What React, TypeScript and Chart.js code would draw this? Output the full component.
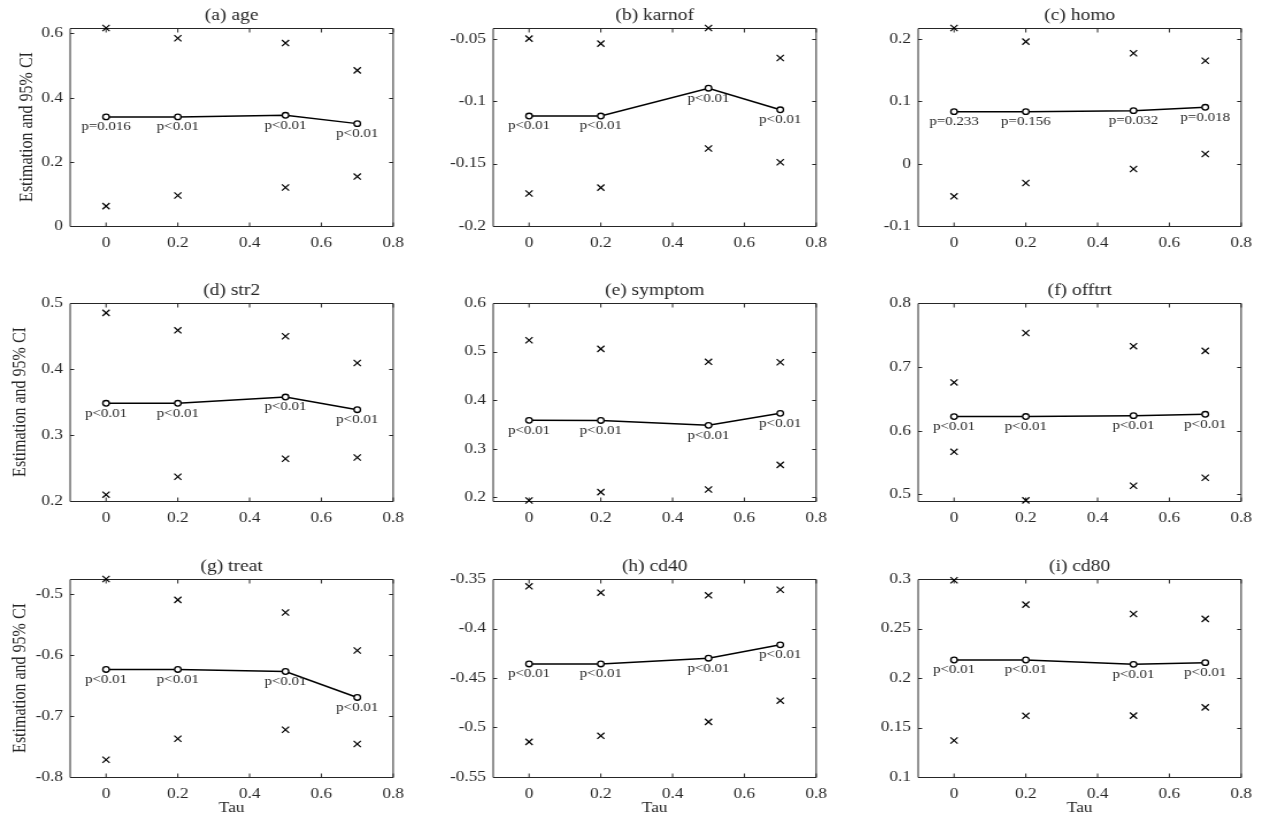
import React, { useEffect, useRef } from "react";
import { Chart, registerables } from "chart.js";

Chart.register(...registerables);

// ---------- data ----------
const tau = [0, 0.2, 0.5, 0.7];
const xTicks = [0, 0.2, 0.4, 0.6, 0.8];
const xRange = [-0.1, 0.8];

// (a) age
const ageEst = [0.34, 0.34, 0.345, 0.319];
const ageUpper = [0.617, 0.585, 0.57, 0.485];
const ageLower = [0.062, 0.095, 0.12, 0.154];
const ageP = ["p=0.016", "p<0.01", "p<0.01", "p<0.01"];
const ageYTicks = [0, 0.2, 0.4, 0.6];
const ageYRange = [0, 0.617];

// (b) karnof
const karnofEst = [-0.112, -0.112, -0.0897, -0.107];
const karnofUpper = [-0.05, -0.054, -0.0415, -0.0655];
const karnofLower = [-0.174, -0.1693, -0.138, -0.149];
const karnofP = ["p<0.01", "p<0.01", "p<0.01", "p<0.01"];
const karnofYTicks = [-0.2, -0.15, -0.1, -0.05];
const karnofYRange = [-0.2, -0.0415];

// (c) homo
const homoEst = [0.0834, 0.0834, 0.085, 0.0904];
const homoUpper = [0.2176, 0.1957, 0.177, 0.165];
const homoLower = [-0.0524, -0.031, -0.0086, 0.0155];
const homoP = ["p=0.233", "p=0.156", "p=0.032", "p=0.018"];
const homoYTicks = [-0.1, 0, 0.1, 0.2];
const homoYRange = [-0.1, 0.2176];

// (d) str2
const str2Est = [0.348, 0.348, 0.3575, 0.3383];
const str2Upper = [0.485, 0.4586, 0.4496, 0.409];
const str2Lower = [0.2096, 0.2368, 0.264, 0.266];
const str2P = ["p<0.01", "p<0.01", "p<0.01", "p<0.01"];
const str2YTicks = [0.2, 0.3, 0.4, 0.5];
const str2YRange = [0.2, 0.5];

// (e) symptom
const symptomEst = [0.3582, 0.358, 0.3479, 0.3726];
const symptomUpper = [0.5233, 0.5055, 0.4788, 0.478];
const symptomLower = [0.193, 0.2103, 0.2158, 0.2664];
const symptomP = ["p<0.01", "p<0.01", "p<0.01", "p<0.01"];
const symptomYTicks = [0.2, 0.3, 0.4, 0.5, 0.6];
const symptomYRange = [0.192, 0.6];

// (f) offtrt
const offtrtEst = [0.6219, 0.622, 0.6234, 0.6255];
const offtrtUpper = [0.6755, 0.753, 0.7323, 0.725];
const offtrtLower = [0.5667, 0.4906, 0.5135, 0.526];
const offtrtP = ["p<0.01", "p<0.01", "p<0.01", "p<0.01"];
const offtrtYTicks = [0.5, 0.6, 0.7, 0.8];
const offtrtYRange = [0.4896, 0.8];

// (g) treat
const treatEst = [-0.6235, -0.6235, -0.6268, -0.6694];
const treatUpper = [-0.475, -0.5093, -0.53, -0.5923];
const treatLower = [-0.7716, -0.7372, -0.7224, -0.7459];
const treatP = ["p<0.01", "p<0.01", "p<0.01", "p<0.01"];
const treatYTicks = [-0.8, -0.7, -0.6, -0.5];
const treatYRange = [-0.8, -0.475];

// (h) cd40
const cd40Est = [-0.4358, -0.4358, -0.43, -0.4165];
const cd40Upper = [-0.3574, -0.3638, -0.3665, -0.3608];
const cd40Lower = [-0.5145, -0.5084, -0.4943, -0.4729];
const cd40P = ["p<0.01", "p<0.01", "p<0.01", "p<0.01"];
const cd40YTicks = [-0.55, -0.5, -0.45, -0.4, -0.35];
const cd40YRange = [-0.55, -0.35];

// (i) cd80
const cd80Est = [0.2182, 0.2182, 0.2138, 0.2155];
const cd80Upper = [0.2987, 0.2741, 0.2647, 0.2597];
const cd80Lower = [0.1369, 0.1618, 0.162, 0.1703];
const cd80P = ["p<0.01", "p<0.01", "p<0.01", "p<0.01"];
const cd80YTicks = [0.1, 0.15, 0.2, 0.25, 0.3];
const cd80YRange = [0.1, 0.3];

const panelTitles = [
  "(a) age", "(b) karnof", "(c) homo",
  "(d) str2", "(e) symptom", "(f) offtrt",
  "(g) treat", "(h) cd40", "(i) cd80",
];

const yTitle = "Estimation and 95% CI";
const xTitle = "Tau";

const panels = [
  { est: ageEst, upper: ageUpper, lower: ageLower, p: ageP, yTicks: ageYTicks, yRange: ageYRange },
  { est: karnofEst, upper: karnofUpper, lower: karnofLower, p: karnofP, yTicks: karnofYTicks, yRange: karnofYRange },
  { est: homoEst, upper: homoUpper, lower: homoLower, p: homoP, yTicks: homoYTicks, yRange: homoYRange },
  { est: str2Est, upper: str2Upper, lower: str2Lower, p: str2P, yTicks: str2YTicks, yRange: str2YRange },
  { est: symptomEst, upper: symptomUpper, lower: symptomLower, p: symptomP, yTicks: symptomYTicks, yRange: symptomYRange },
  { est: offtrtEst, upper: offtrtUpper, lower: offtrtLower, p: offtrtP, yTicks: offtrtYTicks, yRange: offtrtYRange },
  { est: treatEst, upper: treatUpper, lower: treatLower, p: treatP, yTicks: treatYTicks, yRange: treatYRange },
  { est: cd40Est, upper: cd40Upper, lower: cd40Lower, p: cd40P, yTicks: cd40YTicks, yRange: cd40YRange },
  { est: cd80Est, upper: cd80Upper, lower: cd80Lower, p: cd80P, yTicks: cd80YTicks, yRange: cd80YRange },
];

// ---------- layout ----------
// The original figure is horizontally stretched; each canvas is drawn narrower
// and widened with CSS scaleX so glyphs and markers get the same aspect.
const SX = 1.15;
const FONT = "'Liberation Serif', 'Times New Roman', serif";
const INK = "#262626";
const colLefts = [70, 493, 918]; // page px of plot-area left edge
const rowTops = [28, 303, 579]; // page px of plot-area top edge
const PLOT_W_PAGE = 323;
const PLOT_H = 198;
const Y_AXIS_W = 61; // local (unstretched) px
const TOP_H = 30;
const X_AXIS_H = 45;
const CANVAS_W = 360; // local px
const PLOT_W = PLOT_W_PAGE / SX;
const RIGHT_PAD = CANVAS_W - Y_AXIS_W - PLOT_W;
const CANVAS_H = TOP_H + PLOT_H + X_AXIS_H;
const yTitleOffsetByRow = [13.9, 7.8, 7.8];

const fmt = (v: number) => String(Math.round(v * 1000) / 1000);

const framePlugin = {
  id: "frameTicks",
  beforeDatasetsDraw(chart: any) {
    const { ctx, chartArea } = chart;
    const { left, right, top, bottom } = chartArea;
    const xs = chart.scales.x;
    const ys = chart.scales.y;
    ctx.save();
    ctx.strokeStyle = INK;
    ctx.lineWidth = 1;
    const t = Math.round(top) + 0.5;
    const b = Math.round(bottom) + 0.5;
    ctx.beginPath();
    ctx.rect(left, t, right - left, b - t);
    ctx.stroke();
    const TL = 4;
    ctx.beginPath();
    xs.ticks.forEach((tk: any) => {
      const px = xs.getPixelForValue(tk.value);
      ctx.moveTo(px, b);
      ctx.lineTo(px, b - TL);
      ctx.moveTo(px, t);
      ctx.lineTo(px, t + TL);
    });
    ys.ticks.forEach((tk: any) => {
      const py = Math.round(ys.getPixelForValue(tk.value)) + 0.5;
      ctx.moveTo(left, py);
      ctx.lineTo(left + TL / SX, py);
      ctx.moveTo(right, py);
      ctx.lineTo(right - TL / SX, py);
    });
    ctx.stroke();
    ctx.restore();
  },
};

const pLabelPlugin = {
  id: "pLabels",
  afterDatasetsDraw(chart: any, _args: any, opts: any) {
    const labels: string[] = opts.labels || [];
    const meta = chart.getDatasetMeta(0);
    const { ctx } = chart;
    ctx.save();
    ctx.fillStyle = INK;
    ctx.font = `13px ${FONT}`;
    ctx.textAlign = "center";
    ctx.textBaseline = "middle";
    meta.data.forEach((pt: any, i: number) => {
      if (labels[i]) ctx.fillText(labels[i], pt.x, pt.y + 10);
    });
    ctx.restore();
  },
};

function Panel({ index }: { index: number }) {
  const ref = useRef<HTMLCanvasElement | null>(null);
  const row = Math.floor(index / 3);
  const col = index % 3;
  const spec = panels[index];
  const left = colLefts[col] - Y_AXIS_W * SX;
  const top = rowTops[row] - TOP_H;

  useEffect(() => {
    if (!ref.current) return;
    const toPts = (arr: number[]) => tau.map((x, i) => ({ x, y: arr[i] }));
    const crossSet = (arr: number[]) => ({
      data: toPts(arr),
      showLine: false,
      pointStyle: "crossRot",
      pointRadius: 4.4,
      pointBorderWidth: 1.2,
      pointBorderColor: "#000",
      borderColor: "#000",
      clip: false as any,
    });
    const chart = new Chart(ref.current, {
      type: "line",
      data: {
        datasets: [
          {
            data: toPts(spec.est),
            borderColor: "#000",
            borderWidth: 1.5,
            pointStyle: "circle",
            pointRadius: 2.8,
            pointBorderWidth: 1.3,
            pointBorderColor: "#000",
            pointBackgroundColor: "#fff",
            tension: 0,
            clip: false as any,
          },
          crossSet(spec.upper),
          crossSet(spec.lower),
        ],
      },
      options: {
        responsive: false,
        animation: false,
        devicePixelRatio: 1,
        layout: { padding: { left: 0, top: 0, right: RIGHT_PAD, bottom: 0 } },
        plugins: {
          legend: { display: false },
          tooltip: { enabled: false },
          title: {
            display: true,
            text: panelTitles[index],
            fullSize: false,
            color: INK,
            font: { family: FONT, size: 17, weight: "normal" },
            padding: { top: 7.8, bottom: 1.8 },
          },
          pLabels: { labels: spec.p },
        } as any,
        scales: {
          x: {
            type: "linear",
            min: xRange[0],
            max: xRange[1],
            grid: { display: false, drawTicks: false },
            border: { display: false },
            afterBuildTicks: (s: any) => {
              s.ticks = xTicks.map((v) => ({ value: v }));
            },
            afterFit: (s: any) => {
              s.height = X_AXIS_H;
            },
            ticks: {
              color: INK,
              font: { family: FONT, size: 15 },
              padding: 8,
              maxRotation: 0,
              callback: (v: any) => fmt(Number(v)),
            },
            title: {
              display: row === 2,
              text: xTitle,
              color: INK,
              font: { family: FONT, size: 15 },
              padding: { top: 0, bottom: 5 },
            },
          },
          y: {
            type: "linear",
            min: spec.yRange[0],
            max: spec.yRange[1],
            grid: { display: false, drawTicks: false },
            border: { display: false },
            afterBuildTicks: (s: any) => {
              s.ticks = spec.yTicks.map((v) => ({ value: v }));
            },
            afterFit: (s: any) => {
              s.width = Y_AXIS_W;
            },
            ticks: {
              color: INK,
              font: { family: FONT, size: 15 },
              padding: 6.3,
              callback: (v: any) => fmt(Number(v)),
            },
            title: {
              display: col === 0,
              text: yTitle,
              color: INK,
              font: { family: FONT, size: 16 },
              padding: { top: yTitleOffsetByRow[row], bottom: 0 },
            },
          },
        },
      } as any,
      plugins: [framePlugin, pLabelPlugin],
    });
    return () => chart.destroy();
  }, [index]);

  return (
    <canvas
      ref={ref}
      width={CANVAS_W}
      height={CANVAS_H}
      style={{
        position: "absolute",
        left,
        top,
        width: CANVAS_W,
        height: CANVAS_H,
        transform: `scaleX(${SX})`,
        transformOrigin: "0 0",
      }}
    />
  );
}

export default function App() {
  return (
    <div
      style={{
        position: "absolute",
        left: 0,
        top: 0,
        width: 1265,
        height: 827,
        background: "#fff",
        overflow: "hidden",
      }}
    >
      {panels.map((_, i) => (
        <Panel key={i} index={i} />
      ))}
    </div>
  );
}
